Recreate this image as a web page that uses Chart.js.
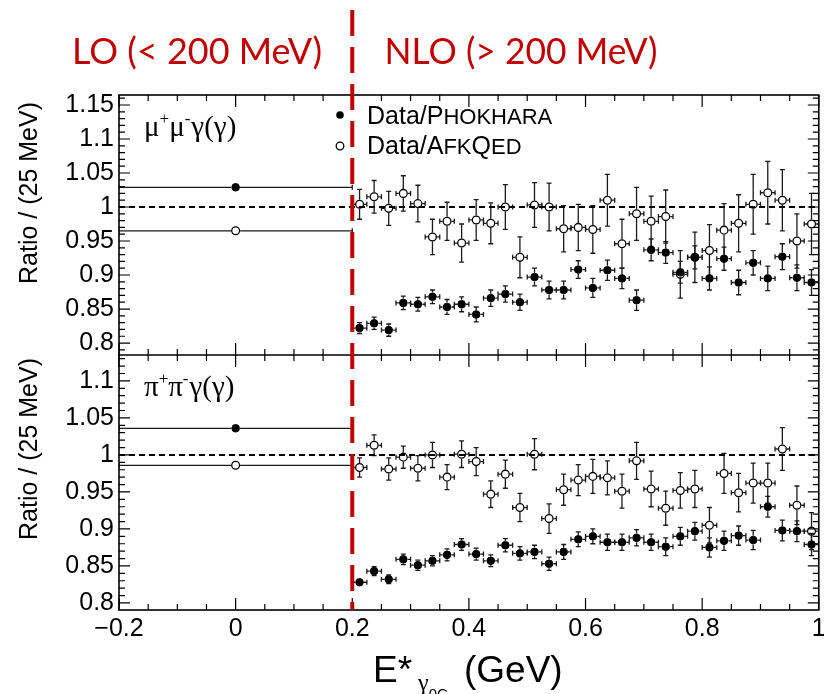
<!DOCTYPE html>
<html>
<head>
<meta charset="utf-8">
<title>Ratio data / MC</title>
<script src="https://cdn.jsdelivr.net/npm/chart.js@4.4.1/dist/chart.umd.min.js"></script>
<style>
  html, body { margin: 0; padding: 0; background: #fff; }
  #wrap { width: 824px; height: 694px; }
</style>
</head>
<body>
<div id="wrap"><canvas id="ratioChart" width="824" height="694"></canvas></div>
<script>
// bin centres (25 MeV bins above 200 MeV) and the single LO bin
const binCenters = [0.2125, 0.2375, 0.2625, 0.2875, 0.3125, 0.3375, 0.3625, 0.3875,
                    0.4125, 0.4375, 0.4625, 0.4875, 0.5125, 0.5375, 0.5625, 0.5875,
                    0.6125, 0.6375, 0.6625, 0.6875, 0.7125, 0.7375, 0.7625, 0.7875,
                    0.8125, 0.8375, 0.8625, 0.8875, 0.9125, 0.9375, 0.9625, 0.9875];
const binHalfWidth = 0.0125;
const loCenter = [0];
const loHalfWidth = 0.2;

// mu mu gamma (gamma)
const muPhokhara = [0.822, 0.829, 0.819, 0.859, 0.857, 0.868, 0.853, 0.857, 0.842, 0.866, 0.872, 0.860,
                    0.897, 0.878, 0.878, 0.908, 0.881, 0.907, 0.895, 0.863, 0.937, 0.933, 0.904, 0.926,
                    0.895, 0.924, 0.889, 0.918, 0.895, 0.927, 0.896, 0.889];
const muPhokharaErr = [0.008, 0.009, 0.009, 0.010, 0.010, 0.010, 0.011, 0.011, 0.011, 0.012, 0.012, 0.012,
                       0.013, 0.013, 0.013, 0.013, 0.014, 0.015, 0.015, 0.015, 0.016, 0.016, 0.016, 0.017,
                       0.017, 0.017, 0.018, 0.018, 0.018, 0.019, 0.019, 0.019];
const muAfkqed = [1.004, 1.015, 0.998, 1.020, 1.005, 0.956, 0.979, 0.947, 0.981, 0.976, 1.000, 0.926,
                  1.003, 1.000, 0.968, 0.970, 0.967, 1.010, 0.946, 0.990, 0.979, 0.986, 0.901, 0.926,
                  0.936, 0.966, 0.976, 1.004, 1.021, 1.010, 0.950, 0.975];
const muAfkqedErr = [0.022, 0.024, 0.025, 0.026, 0.027, 0.026, 0.028, 0.028, 0.030, 0.030, 0.033, 0.030,
                     0.033, 0.035, 0.034, 0.034, 0.035, 0.038, 0.036, 0.039, 0.037, 0.039, 0.035, 0.037,
                     0.038, 0.039, 0.042, 0.044, 0.046, 0.045, 0.040, 0.045];
const muLoPhokhara = [1.029];
const muLoAfkqed = [0.965];

// pi pi gamma (gamma)
const piPhokhara = [0.828, 0.843, 0.832, 0.859, 0.851, 0.857, 0.865, 0.879, 0.866, 0.857, 0.878, 0.867,
                    0.869, 0.853, 0.869, 0.886, 0.890, 0.882, 0.882, 0.888, 0.882, 0.876, 0.890, 0.897,
                    0.875, 0.884, 0.891, 0.885, 0.930, 0.898, 0.897, 0.879];
const piPhokharaErr = [0.005, 0.006, 0.006, 0.007, 0.007, 0.007, 0.008, 0.008, 0.008, 0.008, 0.009, 0.009,
                       0.009, 0.009, 0.010, 0.010, 0.010, 0.011, 0.011, 0.011, 0.011, 0.012, 0.012, 0.012,
                       0.013, 0.013, 0.013, 0.013, 0.014, 0.014, 0.014, 0.015];
const piAfkqed = [0.983, 1.013, 0.981, 0.997, 0.982, 1.000, 0.970, 1.001, 0.991, 0.947, 0.974, 0.929,
                  1.001, 0.914, 0.953, 0.966, 0.971, 0.969, 0.951, 0.992, 0.954, 0.928, 0.952, 0.954,
                  0.905, 0.975, 0.949, 0.962, 0.962, 1.008, 0.932, 0.897];
const piAfkqedErr = [0.013, 0.014, 0.015, 0.015, 0.017, 0.017, 0.017, 0.018, 0.019, 0.018, 0.019, 0.019,
                     0.021, 0.020, 0.021, 0.021, 0.023, 0.023, 0.023, 0.025, 0.024, 0.023, 0.024, 0.025,
                     0.024, 0.027, 0.026, 0.027, 0.027, 0.029, 0.026, 0.025];
const piLoPhokhara = [1.036];
const piLoAfkqed = [0.986];

// reference line (ratio = 1) and axis ticks
const refLineX = [-0.2, 1];
const refLineY = [1, 1];
const xTicks = [-0.2, 0, 0.2, 0.4, 0.6, 0.8, 1];
const topTicks = [0.8, 0.85, 0.9, 0.95, 1, 1.05, 1.1, 1.15];
const bottomTicks = [0.8, 0.85, 0.9, 0.95, 1, 1.05, 1.1];
const splitEnergy = 0.2;

const RED = '#c00000';
const SANS = "'Liberation Sans', Arial, sans-serif";
const SERIF = "'Liberation Serif', 'Times New Roman', serif";

function points(xs, ys) {
  return ys.map((y, i) => ({ x: xs[i], y: y }));
}

const markerStyle = {
  filled: { pointRadius: 3.8, pointBackgroundColor: '#000', pointBorderColor: '#000', pointBorderWidth: 1 },
  open: { pointRadius: 3.9, pointBackgroundColor: 'rgba(255,255,255,0)', pointBorderColor: '#000', pointBorderWidth: 1.3 }
};

function series(label, axis, xs, ys, errs, halfW, kind) {
  return Object.assign({
    label: label, yAxisID: axis, data: points(xs, ys),
    errY: errs, halfW: halfW, showLine: false, pointHoverRadius: 0
  }, markerStyle[kind]);
}

function refLine(axis) {
  return {
    type: 'line', label: 'ratio 1', yAxisID: axis, data: points(refLineX, refLineY),
    borderColor: '#000', borderWidth: 2, borderDash: [6, 4], pointRadius: 0, order: 10
  };
}

// error bars drawn through the chart scales
const errorBars = {
  id: 'errorBars',
  beforeDatasetsDraw(chart) {
    const { ctx, chartArea: a } = chart;
    const xs = chart.scales.x;
    const cap = 2.5;
    ctx.save();
    ctx.beginPath();
    ctx.rect(a.left, a.top, a.right - a.left, a.bottom - a.top);
    ctx.clip();
    ctx.strokeStyle = '#1a1a1a';
    ctx.lineWidth = 1.3;
    chart.data.datasets.forEach(ds => {
      if (!ds.errY) return;
      const ys = chart.scales[ds.yAxisID];
      const gap = ds.pointRadius + 0.6;
      ds.data.forEach((p, i) => {
        const cx = xs.getPixelForValue(p.x), cy = ys.getPixelForValue(p.y);
        const x0 = xs.getPixelForValue(p.x - ds.halfW), x1 = xs.getPixelForValue(p.x + ds.halfW);
        const y0 = ys.getPixelForValue(p.y + ds.errY[i]), y1 = ys.getPixelForValue(p.y - ds.errY[i]);
        ctx.beginPath();
        ctx.moveTo(x0, cy); ctx.lineTo(cx - gap, cy);
        ctx.moveTo(cx + gap, cy); ctx.lineTo(x1, cy);
        ctx.moveTo(x0, cy - cap); ctx.lineTo(x0, cy + cap);
        ctx.moveTo(x1, cy - cap); ctx.lineTo(x1, cy + cap);
        if (y1 - cy > gap) {
          ctx.moveTo(cx, y0); ctx.lineTo(cx, cy - gap);
          ctx.moveTo(cx, cy + gap); ctx.lineTo(cx, y1);
          ctx.moveTo(cx - cap, y0); ctx.lineTo(cx + cap, y0);
          ctx.moveTo(cx - cap, y1); ctx.lineTo(cx + cap, y1);
        }
        ctx.stroke();
      });
    });
    ctx.restore();
  }
};

// draws a row of text pieces with different fonts / offsets, returns end x
function drawRuns(ctx, x, y, runs) {
  runs.forEach(r => {
    ctx.font = r.font;
    ctx.fillText(r.t, x, y + (r.dy || 0));
    x += ctx.measureText(r.t).width + (r.after || 0);
  });
  return x;
}

function panelTicks(ctx, a, xs, ys) {
  const top = ys.top, bottom = ys.bottom;
  ctx.beginPath();
  for (let k = Math.ceil(ys.min * 100 - 1e-6); k <= Math.floor(ys.max * 100 + 1e-6); k++) {
    const py = ys.getPixelForValue(k / 100);
    const len = k % 5 === 0 ? 11 : 6;
    ctx.moveTo(a.left, py); ctx.lineTo(a.left + len, py);
    ctx.moveTo(a.right, py); ctx.lineTo(a.right - len, py);
  }
  for (let k = -20; k <= 100; k += 5) {
    const px = xs.getPixelForValue(k / 100);
    const len = k % 20 === 0 ? 12 : 6;
    ctx.moveTo(px, bottom); ctx.lineTo(px, bottom - len);
    ctx.moveTo(px, top); ctx.lineTo(px, top + len);
  }
  ctx.stroke();
}

const decorations = {
  id: 'decorations',
  afterDatasetsDraw(chart) {
    const { ctx, chartArea: a, scales } = chart;
    ctx.save();
    ctx.strokeStyle = '#000';
    ctx.lineWidth = 1.2;
    panelTicks(ctx, a, scales.x, scales.yTop);
    panelTicks(ctx, a, scales.x, scales.yBot);
    ctx.lineWidth = 1.6;
    ctx.strokeRect(a.left, a.top, a.right - a.left, a.bottom - a.top);
    ctx.beginPath();
    ctx.moveTo(a.left, scales.yTop.bottom); ctx.lineTo(a.right, scales.yTop.bottom);
    ctx.stroke();
    ctx.restore();
  },
  afterDraw(chart) {
    const { ctx, chartArea: a, scales } = chart;
    ctx.save();
    // LO / NLO split
    const sx = scales.x.getPixelForValue(splitEnergy);
    ctx.strokeStyle = RED;
    ctx.lineWidth = 4;
    ctx.setLineDash([26, 11]);
    ctx.beginPath();
    ctx.moveTo(sx, 10); ctx.lineTo(sx, a.bottom);
    ctx.stroke();
    ctx.setLineDash([]);

    ctx.fillStyle = RED;
    ctx.textBaseline = 'alphabetic';
    ctx.textAlign = 'center';
    ctx.font = "36px Lato, 'Open Sans', sans-serif";
    ctx.fillText('LO (< 200 MeV)', 197, 64, 250);
    ctx.fillText('NLO (> 200 MeV)', 521, 64, 273);

    ctx.fillStyle = '#000';
    ctx.strokeStyle = '#000';
    ctx.textAlign = 'left';
    // legend
    ctx.beginPath(); ctx.arc(340, 115, 3.8, 0, Math.PI * 2); ctx.fill();
    ctx.lineWidth = 1.3;
    ctx.beginPath(); ctx.arc(340, 146, 3.8, 0, Math.PI * 2); ctx.stroke();
    const big = '25px ' + SANS, small = '22px ' + SANS;
    drawRuns(ctx, 367, 124, [{ t: 'Data/P', font: big }, { t: 'HOKHARA', font: small }]);
    drawRuns(ctx, 367, 154, [{ t: 'Data/A', font: big }, { t: 'FK', font: small },
                             { t: 'Q', font: big }, { t: 'ED', font: small }]);

    // process labels
    const g = '29px ' + SERIF, sup = '17px ' + SERIF;
    drawRuns(ctx, 144, 136, [{ t: 'μ', font: g }, { t: '+', font: sup, dy: -12 }, { t: 'μ', font: g },
                             { t: '-', font: sup, dy: -12, after: 1 }, { t: 'γ(γ)', font: g }]);
    drawRuns(ctx, 144, 396, [{ t: 'π', font: g }, { t: '+', font: sup, dy: -12 }, { t: 'π', font: g },
                             { t: '-', font: sup, dy: -12, after: 1 }, { t: 'γ(γ)', font: g }]);

    // axis titles
    const xt = '37px ' + SANS;
    let ex = drawRuns(ctx, 373, 682, [{ t: 'E*', font: xt, after: 6 }]);
    drawRuns(ctx, ex, 690, [{ t: 'γ', font: '24px ' + SERIF }, { t: '0C', font: '15px ' + SANS, dy: 9 }]);
    drawRuns(ctx, 464, 682, [{ t: '(GeV)', font: xt }]);

    ctx.textAlign = 'center';
    ctx.font = '25px ' + SANS;
    [[30, 193], [30, 449]].forEach(([tx, ty]) => {
      ctx.save();
      ctx.translate(tx, ty);
      ctx.rotate(-Math.PI / 2);
      ctx.textBaseline = 'middle';
      ctx.fillText('Ratio / (25 MeV)', 0, 0);
      ctx.restore();
    });
    ctx.restore();
  }
};

function tickLabel(v) {
  return v < 0 ? '\u2212' + Math.abs(v) : String(v);
}

function yAxis(min, max, ticks, weight) {
  return {
    type: 'linear', position: 'left', stack: 'panels', stackWeight: weight,
    min: min, max: max,
    grid: { display: false, drawTicks: false }, border: { display: false },
    ticks: { font: { family: SANS, size: 25 }, color: '#000', padding: 5, autoSkip: false, callback: tickLabel },
    afterBuildTicks: s => { s.ticks = ticks.map(v => ({ value: v })); },
    afterFit: s => { s.width = 119; }
  };
}

const datasets = [
  series('Data/PHOKHARA', 'yTop', binCenters, muPhokhara, muPhokharaErr, binHalfWidth, 'filled'),
  series('Data/AFKQED', 'yTop', binCenters, muAfkqed, muAfkqedErr, binHalfWidth, 'open'),
  series('LO Data/PHOKHARA', 'yTop', loCenter, muLoPhokhara, [0], loHalfWidth, 'filled'),
  series('LO Data/AFKQED', 'yTop', loCenter, muLoAfkqed, [0], loHalfWidth, 'open'),
  series('Data/PHOKHARA', 'yBot', binCenters, piPhokhara, piPhokharaErr, binHalfWidth, 'filled'),
  series('Data/AFKQED', 'yBot', binCenters, piAfkqed, piAfkqedErr, binHalfWidth, 'open'),
  series('LO Data/PHOKHARA', 'yBot', loCenter, piLoPhokhara, [0], loHalfWidth, 'filled'),
  series('LO Data/AFKQED', 'yBot', loCenter, piLoAfkqed, [0], loHalfWidth, 'open'),
  refLine('yTop'),
  refLine('yBot')
];

const chart = new Chart(document.getElementById('ratioChart').getContext('2d'), {
  type: 'scatter',
  data: { datasets: datasets },
  options: {
    responsive: false,
    animation: false,
    events: [],
    layout: { padding: { top: 95, right: 4, left: 0, bottom: 0 } },
    plugins: { legend: { display: false }, tooltip: { enabled: false }, title: { display: false } },
    scales: {
      x: {
        type: 'linear', position: 'bottom', min: -0.2, max: 1,
        grid: { display: false, drawTicks: false }, border: { display: false },
        ticks: { font: { family: SANS, size: 25 }, color: '#000', padding: 4, maxRotation: 0, autoSkip: false, callback: tickLabel },
        afterBuildTicks: s => { s.ticks = xTicks.map(v => ({ value: v })); },
        afterFit: s => { s.height = 84; s.paddingLeft = 0; s.paddingRight = 0; }
      },
      // bottom panel first: later stacked axes are placed above
      yBot: yAxis(0.7905, 1.135, bottomTicks, 255),
      yTop: yAxis(0.7824, 1.1647, topTicks, 260)
    }
  },
  plugins: [errorBars, decorations]
});
</script>
</body>
</html>
